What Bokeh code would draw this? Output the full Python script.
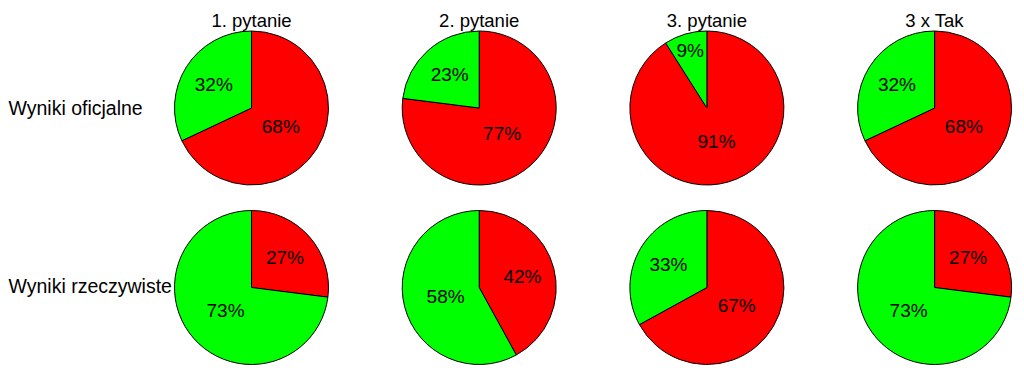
import math
from bokeh.plotting import figure
from bokeh.models import Range1d, ColumnDataSource
from bokeh.core.properties import value
from bokeh.embed import file_html
from bokeh.resources import INLINE

# ---- data ----
questions = ["1. pytanie", "2. pytanie", "3. pytanie", "3 x Tak"]
row_names = ["Wyniki oficjalne", "Wyniki rzeczywiste"]
red_official = [68, 77, 91, 68]
green_official = [32, 23, 9, 32]
red_actual = [27, 42, 67, 27]
green_actual = [73, 58, 33, 73]

RED = "#ff0000"
GREEN = "#00ff00"
FONT = "Liberation Sans"

# ---- layout (screen pixels, converted to an upward y axis) ----
W, H = 1016, 382
TOP = 390
def up(sy):
    return TOP - sy

col_x = [251 + 227.7 * i for i in range(4)]
row_y = [up(107.5), up(287)]
R = 77

p = figure(width=W, height=H, output_backend="svg", toolbar_location=None,
           x_range=Range1d(0, W), y_range=Range1d(TOP - H, TOP),
           x_axis_type=None, y_axis_type=None, min_border=0)
p.grid.visible = False
p.outline_line_color = None
p.background_fill_color = "white"
p.border_fill_color = "white"

wx, wy, ws, we, wc = [], [], [], [], []
lx, ly, lt = [], [], []

def frac_r(v):
    if v < 15:
        return 0.78
    if v < 50:
        return 0.58
    return 0.45

for ri, (reds, greens) in enumerate([(red_official, green_official), (red_actual, green_actual)]):
    for ci in range(4):
        cx, cy = col_x[ci], row_y[ri]
        total = reds[ci] + greens[ci]
        start = 0.0
        for v, col in ((reds[ci], RED), (greens[ci], GREEN)):
            f0 = start / total
            f1 = (start + v) / total
            a0 = math.pi / 2 - 2 * math.pi * f0
            a1 = math.pi / 2 - 2 * math.pi * f1
            wx.append(cx); wy.append(cy); ws.append(a0); we.append(a1); wc.append(col)
            fm = (f0 + f1) / 2
            am = math.pi / 2 - 2 * math.pi * fm
            rr = frac_r(v) * R
            lx.append(cx + rr * math.cos(am))
            ly.append(cy + rr * math.sin(am))
            lt.append(f"{v}%")
            start += v

src = ColumnDataSource(dict(x=wx, y=wy, s=ws, e=we, c=wc))
p.wedge(x="x", y="y", radius=R, start_angle="s", end_angle="e", direction="clock",
        fill_color="c", line_color="black", line_width=1, source=src)

p.text(x=lx, y=ly, text=lt, text_align="center", text_baseline="middle",
       text_font=value(FONT), text_font_size="19px", text_color="black")

p.text(x=col_x, y=[up(19.5)] * 4, text=questions, text_align="center",
       text_baseline="middle", text_font=value(FONT), text_font_size="18.5px",
       text_color="black")

p.text(x=[8, 8], y=[up(107), up(285.5)], text=row_names, text_align="left",
       text_baseline="middle", text_font=value(FONT), text_font_size="19.5px",
       text_color="black")

open("out.html", "w").write(file_html(p, INLINE))
